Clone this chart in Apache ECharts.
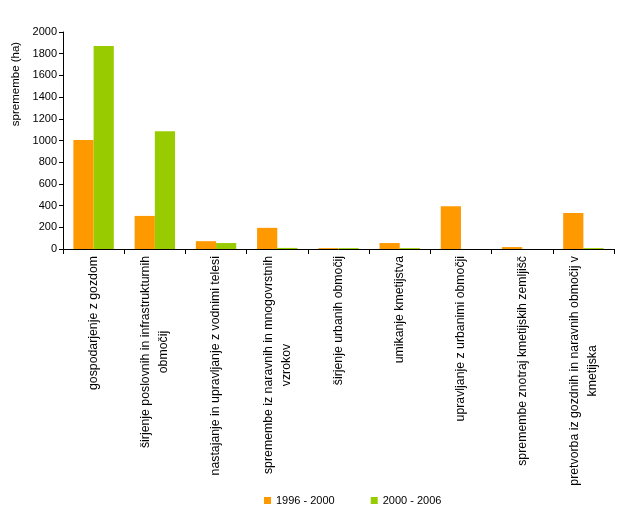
<!DOCTYPE html>
<html>
<head>
<meta charset="utf-8">
<script src="https://cdn.jsdelivr.net/npm/echarts@6/dist/echarts.min.js"></script>
<style>
html,body{margin:0;padding:0;background:#fff;}
#c{width:621px;height:516px;}
</style>
</head>
<body>
<div id="c"></div>
<script>
const categories = [
  "gospodarjenje z gozdom",
  "širjenje poslovnih in infrastrukturnih\nobmočij",
  "nastajanje in upravljanje z vodnimi telesi",
  "spremembe iz naravnih in mnogovrstnih\nvzrokov",
  "širjenje urbanih območij",
  "umikanje kmetijstva",
  "upravljanje z urbanimi območji",
  "spremembe znotraj kmetijskih zemljišč",
  "pretvorba iz gozdnih in naravnih območij v\nkmetijska"
];
const seriesNames = ["1996 - 2000", "2000 - 2006"];
const values1996 = [1005, 305, 72, 195, 8, 55, 395, 18, 332];
const values2000 = [1870, 1085, 55, 10, 8, 8, 0, 0, 8];
const yTicks = { min: 0, max: 2000, interval: 200 };
const yAxisTitle = "spremembe (ha)";

const FONT = "'Liberation Sans', Arial, sans-serif";
const CAT_FS = 12.3;
const chart = echarts.init(document.getElementById('c'), null, { renderer: 'canvas' });
chart.setOption({
  animation: false,
  backgroundColor: '#ffffff',
  textStyle: { fontFamily: FONT },
  grid: { left: 63, right: 7, top: 32, bottom: 267, containLabel: false },
  legend: {
    data: seriesNames,
    left: 259, top: 490,
    icon: 'rect', itemWidth: 7, itemHeight: 7, itemGap: 36,
    textStyle: { fontFamily: FONT, fontSize: 11, color: '#000' }
  },
  graphic: [{
    type: 'text', x: 16, y: 84, rotation: Math.PI / 2,
    style: { text: yAxisTitle, font: "11.5px 'Liberation Sans', Arial, sans-serif", fill: '#000', align: 'center', verticalAlign: 'middle' }
  }],
  xAxis: {
    type: 'category', data: categories,
    axisLine: { lineStyle: { color: '#000', width: 1 } },
    axisTick: { show: true, length: 5, lineStyle: { color: '#000' } },
    axisLabel: {
      rotate: 90, interval: 0, margin: 7, color: '#000', fontSize: CAT_FS, fontFamily: FONT,
      lineHeight: 18,
      formatter: function (v) { return v.split('\n').map(function (l) { return '{c|' + l + '}'; }).join('\n'); },
      rich: { c: { align: 'center', fontSize: CAT_FS, fontFamily: FONT, color: '#000', lineHeight: 18 } }
    }
  },
  yAxis: {
    type: 'value', min: yTicks.min, max: yTicks.max, interval: yTicks.interval,
    axisLine: { show: true, lineStyle: { color: '#000', width: 1 } },
    axisTick: { show: true, length: 4, lineStyle: { color: '#000' } },
    splitLine: { show: false },
    axisLabel: { color: '#000', fontSize: 11, fontFamily: FONT, margin: 6, formatter: function (v) { return String(v); } }
  },
  series: [
    { name: seriesNames[0], type: 'bar', data: values1996, itemStyle: { color: '#FF9900' }, barGap: '0%', barCategoryGap: '34%' },
    { name: seriesNames[1], type: 'bar', data: values2000, itemStyle: { color: '#99CC00' }, barGap: '0%', barCategoryGap: '34%' }
  ]
});
</script>
</body>
</html>
